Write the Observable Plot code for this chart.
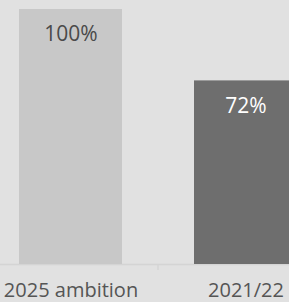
<!DOCTYPE html>
<html><head><meta charset="utf-8">
<script src="https://cdn.jsdelivr.net/npm/d3@7"></script>
<script src="https://cdn.jsdelivr.net/npm/@observablehq/plot@0.6"></script>
<style>
html,body{margin:0;padding:0;background:#e1e1e1;overflow:hidden;width:289px;height:302px;}
svg{max-width:none !important;display:block;}
</style></head>
<body><div id="chart"></div>
<script>
const categories = ["2025 ambition", "2021/22"];
const values = [100, 72];
const labels = ["100%", "72%"];
const barColors = ["#c8c8c8", "#6e6e6e"];
const labelColors = ["#4a4a4a", "#ffffff"];

const data = categories.map((c, i) => ({cat: c, value: values[i], label: labels[i], fill: barColors[i], tc: labelColors[i]}));

const font = "'Open Sans', sans-serif";
const chart = Plot.plot({
  width: 316,
  height: 302,
  marginLeft: 0,
  marginRight: 0,
  marginTop: 9,
  marginBottom: 38,
  style: {background: "#e1e1e1", fontFamily: font, maxWidth: "none"},
  x: {domain: categories, paddingInner: 0.409, paddingOuter: 0.1023, axis: null, label: null},
  y: {domain: [0, 100], axis: null},
  marks: [
    Plot.ruleY([0], {stroke: "#d4d4d4", strokeWidth: 1.5}),
    Plot.barY(data, {x: "cat", y: "value", fill: "fill"}),
    Plot.text(data, {x: "cat", y: "value", text: "label", fill: "tc", dy: 25, fontSize: 21, fontFamily: font}),
    Plot.axisX({tickSize: 0, tickPadding: 18, fontSize: 20, fontFamily: font, color: "#555555", anchor: "bottom", label: null}),
    (index, scales, values, dims) => {
      const x = scales.x;
      const mid = (x(categories[0]) + x.bandwidth() + x(categories[1])) / 2;
      const y0 = dims.height - dims.marginBottom;
      const g = d3.create("svg:line")
        .attr("x1", mid).attr("x2", mid)
        .attr("y1", y0).attr("y2", y0 + 6)
        .attr("stroke", "#d4d4d4").attr("stroke-width", 1.5);
      return g.node();
    }
  ]
});
document.getElementById("chart").append(chart);
</script></body></html>
